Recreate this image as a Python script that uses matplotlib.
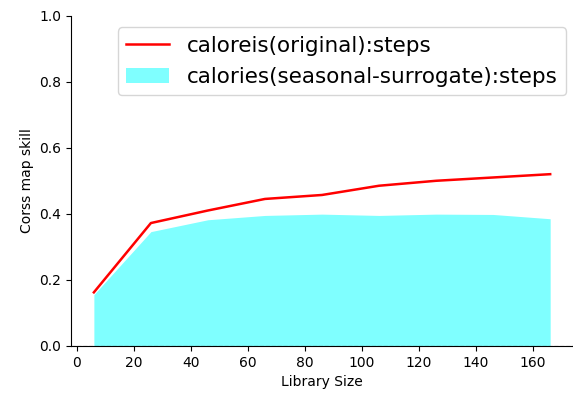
import numpy as np
import matplotlib
matplotlib.use("Agg")
import matplotlib.pyplot as plt

# library sizes and cross map skill values
lib_size = [6, 26, 46, 66, 86, 106, 126, 146, 166]
original = [0.162, 0.372, 0.410, 0.445, 0.457, 0.485, 0.500, 0.510, 0.520]
surrogate = [0.155, 0.346, 0.382, 0.395, 0.399, 0.395, 0.399, 0.398, 0.385]

fig, ax = plt.subplots(figsize=(5.73, 3.93), dpi=100)

ax.plot(lib_size, original, color='red', lw=1.8, label='caloreis(original):steps')
ax.fill_between(lib_size, 0, surrogate, color='cyan', alpha=0.5, lw=0,
                label='calories(seasonal-surrogate):steps')
ax.axhline(0, color='#555555', ls='--', lw=0.8)

ax.set_ylim(0, 1.0)
ax.set_xlabel('Library Size')
ax.set_ylabel('Corss map skill')
ax.spines['top'].set_visible(False)
ax.spines['right'].set_visible(False)
ax.legend(loc='upper right', fontsize=15.5, bbox_to_anchor=(0.986, 0.965),
          borderaxespad=0)

fig.subplots_adjust(left=0.124, right=1.0, top=0.96, bottom=0.12)
fig.savefig('out.png', dpi=100)
